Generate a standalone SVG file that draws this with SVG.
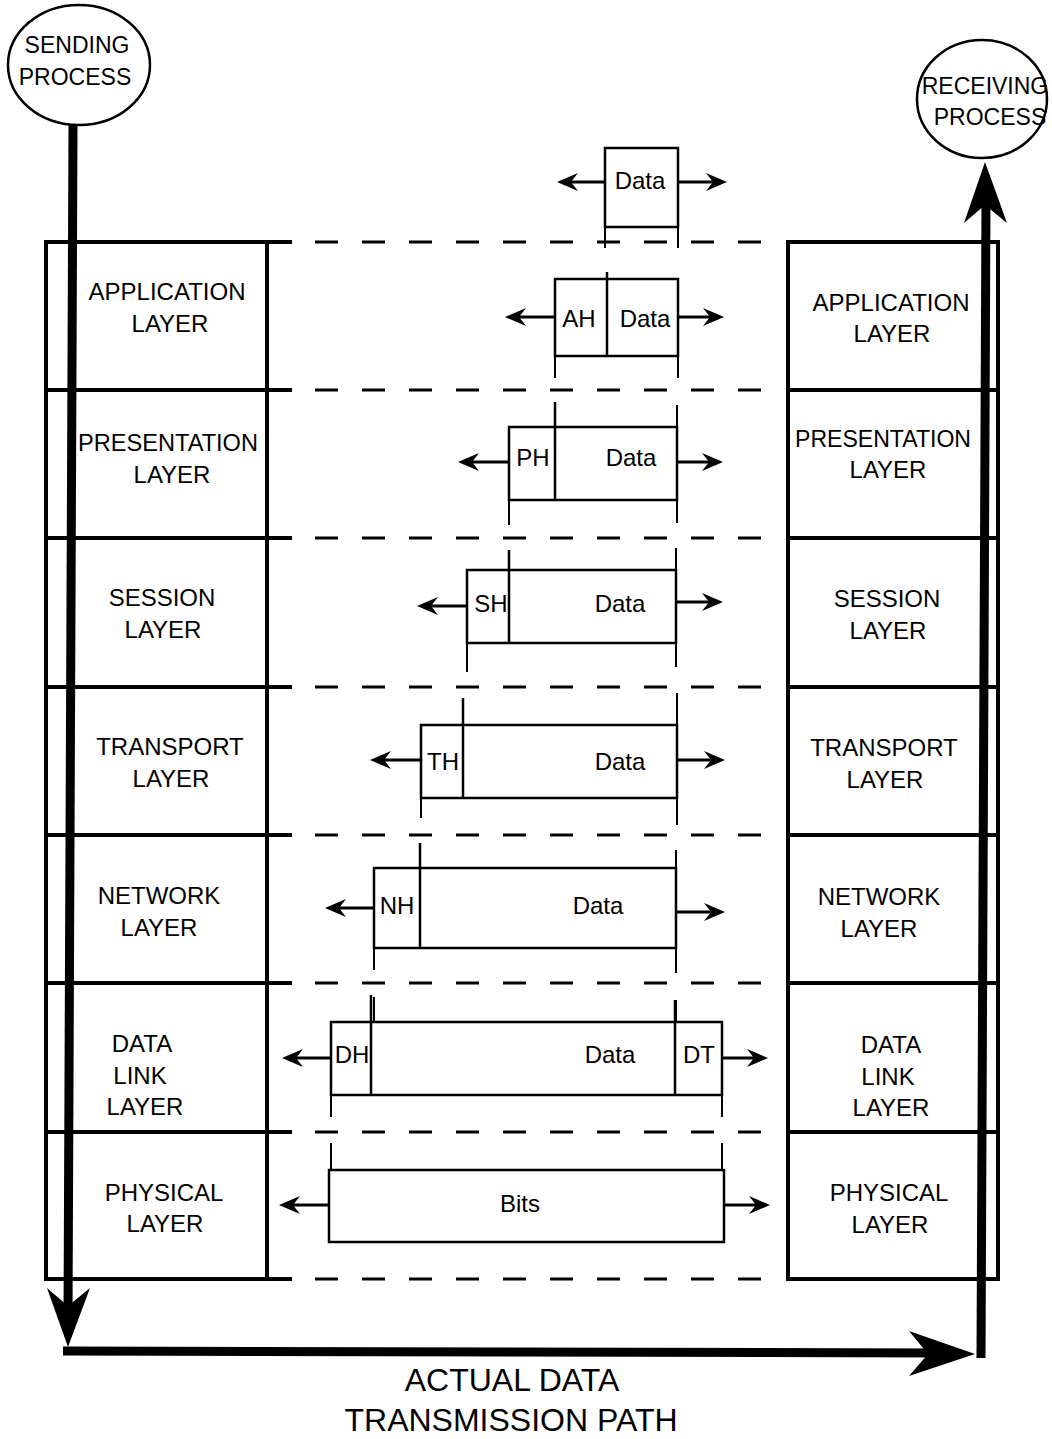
<svg xmlns="http://www.w3.org/2000/svg" width="1052" height="1439" viewBox="0 0 1052 1439">
<style>
.bg{fill:#fff}
.lay{fill:none;stroke:#000;stroke-width:4}
.ell{fill:#fff;stroke:#000;stroke-width:2.5}
.dash{stroke:#000;stroke-width:3;stroke-dasharray:23 24;fill:none}
.stub{stroke:#000;stroke-width:4}
.pkt{fill:none;stroke:#000;stroke-width:2.5}
.hdr{stroke:#000;stroke-width:2.5}
.ext{stroke:#000;stroke-width:2}
.arr{stroke:#000;stroke-width:3;marker-end:url(#ah)}
.thick{stroke:#000;stroke-width:9;fill:none}
.head{fill:#000}
text{font-family:"Liberation Sans",Arial,sans-serif;fill:#000;text-anchor:middle}
.t{font-size:24px}
.p{font-size:23px}
.big{font-size:32px}
</style>
<defs>
<marker id="ah" viewBox="-30 -10 32 20" refX="-8" refY="0" markerWidth="32" markerHeight="20" markerUnits="userSpaceOnUse" orient="auto">
<path d="M0,0 L-21,-9 L-14,0 L-21,9 Z" fill="#000"/>
</marker>
</defs>
<rect class="bg" x="0" y="0" width="1052" height="1439"/>

<g id="sending-process">
<ellipse class="ell" cx="79" cy="65" rx="71" ry="60"/>
<text class="p" x="77" y="53">SENDING</text>
<text class="p" x="75" y="85">PROCESS</text>
</g>
<g id="receiving-process">
<ellipse class="ell" cx="982" cy="99" rx="65" ry="59"/>
<text class="p" x="985" y="94" font-size="22">RECEIVING</text>
<text class="p" x="990" y="125" font-size="22">PROCESS</text>
</g>

<g id="left-stack">
<g id="left-application"><rect class="lay" x="46" y="242" width="221" height="148"/><text class="t" x="167" y="300">APPLICATION</text><text class="t" x="170" y="332">LAYER</text></g>
<g id="left-presentation"><rect class="lay" x="46" y="390" width="221" height="148"/><text class="t" x="168" y="451" textLength="180" lengthAdjust="spacingAndGlyphs">PRESENTATION</text><text class="t" x="172" y="483">LAYER</text></g>
<g id="left-session"><rect class="lay" x="46" y="538" width="221" height="149"/><text class="t" x="162" y="606">SESSION</text><text class="t" x="163" y="638">LAYER</text></g>
<g id="left-transport"><rect class="lay" x="46" y="687" width="221" height="148"/><text class="t" x="170" y="755">TRANSPORT</text><text class="t" x="171" y="787">LAYER</text></g>
<g id="left-network"><rect class="lay" x="46" y="835" width="221" height="148"/><text class="t" x="159" y="904">NETWORK</text><text class="t" x="159" y="936">LAYER</text></g>
<g id="left-datalink"><rect class="lay" x="46" y="983" width="221" height="149"/><text class="t" x="142" y="1052">DATA</text><text class="t" x="140" y="1084">LINK</text><text class="t" x="145" y="1115">LAYER</text></g>
<g id="left-physical"><rect class="lay" x="46" y="1132" width="221" height="147"/><text class="t" x="164" y="1201">PHYSICAL</text><text class="t" x="165" y="1232">LAYER</text></g>
</g>

<g id="right-stack">
<g id="right-application"><rect class="lay" x="788" y="242" width="210" height="148"/><text class="t" x="891" y="311">APPLICATION</text><text class="t" x="892" y="342">LAYER</text></g>
<g id="right-presentation"><rect class="lay" x="788" y="390" width="210" height="148"/><text class="t" x="883" y="447" textLength="176" lengthAdjust="spacingAndGlyphs">PRESENTATION</text><text class="t" x="888" y="478">LAYER</text></g>
<g id="right-session"><rect class="lay" x="788" y="538" width="210" height="149"/><text class="t" x="887" y="607">SESSION</text><text class="t" x="888" y="639">LAYER</text></g>
<g id="right-transport"><rect class="lay" x="788" y="687" width="210" height="148"/><text class="t" x="884" y="756">TRANSPORT</text><text class="t" x="885" y="788">LAYER</text></g>
<g id="right-network"><rect class="lay" x="788" y="835" width="210" height="148"/><text class="t" x="879" y="905">NETWORK</text><text class="t" x="879" y="937">LAYER</text></g>
<g id="right-datalink"><rect class="lay" x="788" y="983" width="210" height="149"/><text class="t" x="891" y="1053">DATA</text><text class="t" x="888" y="1085">LINK</text><text class="t" x="891" y="1116">LAYER</text></g>
<g id="right-physical"><rect class="lay" x="788" y="1132" width="210" height="147"/><text class="t" x="889" y="1201">PHYSICAL</text><text class="t" x="890" y="1233">LAYER</text></g>
</g>

<g id="layer-boundaries">
<path class="stub" d="M267,242H292 M267,390H292 M267,538H292 M267,687H292 M267,835H292 M267,983H292 M267,1132H292 M267,1279H292"/>
<path class="dash" d="M315,242H765 M315,390H765 M315,538H765 M315,687H765 M315,835H765 M315,983H765 M315,1132H765 M315,1279H765"/>
</g>

<g id="packet-data">
<rect class="pkt" x="605" y="148" width="73" height="79"/>
<text class="t" x="640" y="189">Data</text>
</g>
<g id="packet-application">
<rect class="pkt" x="555" y="279" width="123" height="77"/>
<line class="hdr" x1="607" y1="272" x2="607" y2="356" stroke-width="4"/>
<text class="t" x="579" y="327">AH</text>
<text class="t" x="645" y="327">Data</text>
</g>
<g id="packet-presentation">
<rect class="pkt" x="509" y="427" width="168" height="73"/>
<line class="hdr" x1="555" y1="402" x2="555" y2="500"/>
<text class="t" x="533" y="466">PH</text>
<text class="t" x="631" y="466">Data</text>
</g>
<g id="packet-session">
<rect class="pkt" x="467" y="570" width="209" height="73"/>
<line class="hdr" x1="509" y1="550" x2="509" y2="643"/>
<text class="t" x="491" y="612">SH</text>
<text class="t" x="620" y="612">Data</text>
</g>
<g id="packet-transport">
<rect class="pkt" x="421" y="725" width="256" height="73"/>
<line class="hdr" x1="463" y1="698" x2="463" y2="798"/>
<text class="t" x="443" y="770">TH</text>
<text class="t" x="620" y="770">Data</text>
</g>
<g id="packet-network">
<rect class="pkt" x="374" y="868" width="302" height="80"/>
<line class="hdr" x1="420" y1="843" x2="420" y2="948"/>
<text class="t" x="397" y="914">NH</text>
<text class="t" x="598" y="914">Data</text>
</g>
<g id="packet-datalink">
<rect class="pkt" x="331" y="1022" width="391" height="73"/>
<line class="hdr" x1="371" y1="995" x2="371" y2="1095"/>
<line class="hdr" x1="675" y1="1000" x2="675" y2="1095"/>
<text class="t" x="352" y="1063">DH</text>
<text class="t" x="610" y="1063">Data</text>
<text class="t" x="699" y="1063">DT</text>
</g>
<g id="packet-physical">
<rect class="pkt" x="329" y="1170" width="395" height="72"/>
<text class="t" x="520" y="1212">Bits</text>
</g>

<g id="connectors">
<path class="ext" d="M605,227V248 M678,227V248 M555,356V378 M678,356V378 M677,405V427 M509,500V525 M677,500V523 M676,548V570 M467,643V672 M676,643V667 M677,693V725 M421,798V818 M677,798V825 M676,850V868 M374,948V970 M676,948V973 M374,997V1022 M676,1000V1022 M331,1095V1117 M722,1095V1117 M331,1143V1170 M722,1143V1170"/>
<line class="arr" x1="605" y1="182" x2="565" y2="182"/>
<line class="arr" x1="678" y1="182" x2="719" y2="182"/>
<line class="arr" x1="555" y1="317" x2="513" y2="317"/>
<line class="arr" x1="678" y1="317" x2="716" y2="317"/>
<line class="arr" x1="509" y1="462" x2="466" y2="462"/>
<line class="arr" x1="677" y1="462" x2="715" y2="462"/>
<line class="arr" x1="467" y1="606" x2="425" y2="606"/>
<line class="arr" x1="676" y1="602" x2="715" y2="602"/>
<line class="arr" x1="421" y1="760" x2="378" y2="760"/>
<line class="arr" x1="677" y1="760" x2="717" y2="760"/>
<line class="arr" x1="374" y1="908" x2="333" y2="908"/>
<line class="arr" x1="676" y1="912" x2="717" y2="912"/>
<line class="arr" x1="331" y1="1058" x2="290" y2="1058"/>
<line class="arr" x1="722" y1="1058" x2="760" y2="1058"/>
<line class="arr" x1="329" y1="1205" x2="287" y2="1205"/>
<line class="arr" x1="724" y1="1205" x2="762" y2="1205"/>
<path class="thick" d="M73,125 L68,1320"/>
<path class="head" d="M68,1347 L47,1288 L68,1306 L90,1288 Z"/>
<path class="thick" d="M63,1351 L940,1353"/>
<path class="head" d="M975,1354 L909,1331 L928,1354 L909,1376 Z"/>
<path class="thick" d="M981,1358 L986,200"/>
<path class="head" d="M985,162 L964,223 L985,205 L1007,223 Z"/>
</g>

<g id="caption">
<text class="big" x="512" y="1391">ACTUAL DATA</text>
<text class="big" x="511" y="1431">TRANSMISSION PATH</text>
</g>
</svg>
